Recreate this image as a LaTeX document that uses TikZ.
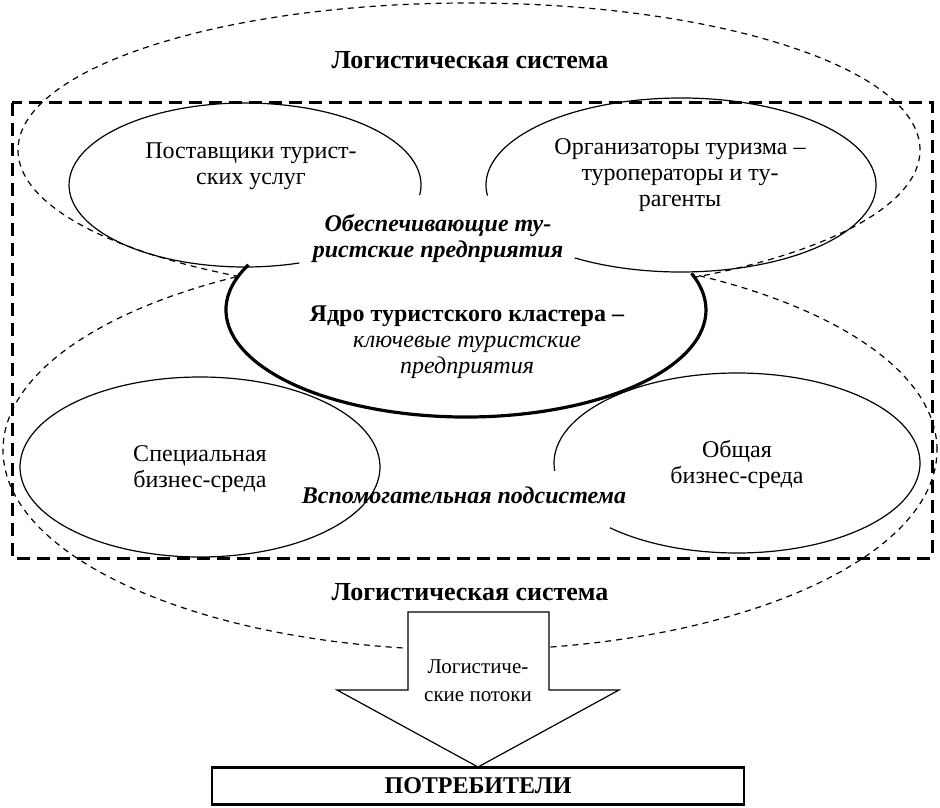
\documentclass[tikz,border=0pt]{standalone}
\usepackage{fontspec}
\setmainfont{Liberation Serif}
\usetikzlibrary{positioning}

\begin{document}
\begin{tikzpicture}[x=0.5pt,y=0.5pt,
    semithick,
    label/.style={font=\fontsize{12}{13}\selectfont, align=center, inner sep=0pt},
    title/.style={label, font=\fontsize{13}{14}\selectfont\bfseries},
    group/.style={label, font=\fontsize{12}{13}\selectfont\bfseries\itshape},
    logic/.style={dash pattern=on 3pt off 2.5pt, line width=0.6pt},
    frame/.style={dash pattern=on 6.5pt off 3.5pt, line width=1.5pt},
    part/.style={line width=0.6pt},
    core/.style={line width=1.6pt}
    ]
\useasboundingbox (0,0) rectangle (940,-807);

% centres of the ellipses
\coordinate (LT) at (469,-150);
\coordinate (LB) at (470,-450);
\coordinate (S) at (245,-185);
\coordinate (O) at (681,-185);
\coordinate (Y) at (466,-310);
\coordinate (SB) at (200,-467);
\coordinate (GB) at (737,-463);

\draw[logic] (LT) ellipse [x radius=451, y radius=147];
\draw[logic] (LB) ellipse [x radius=467, y radius=200];
\fill[white] (Y) ellipse [x radius=240, y radius=107];

\draw[part] (S) ++(-7:176 and 82) arc [start angle=-7, end angle=288, x radius=176, y radius=82];
\draw[part] (O) ++(237:195 and 87) arc [start angle=237, end angle=547, x radius=195, y radius=87];
\draw[part] (SB) ++(-41:180 and 90) arc [start angle=-41, end angle=358, x radius=180, y radius=90];
\draw[part] (GB) ++(226:183 and 90) arc [start angle=226, end angle=545, x radius=183, y radius=90];
\draw[core] (Y) ++(155:240 and 107) arc [start angle=155, end angle=380, x radius=240, y radius=107];

\draw[frame] (12,-103) rectangle (932,-558);

\node[title] (T1) at (470,-60) {Логистическая система};
\node[label] (ts) at (251,-166) {Поставщики турист-\\ских услуг};
\node[label] (to) at (680,-175) {Организаторы туризма –\\туроператоры и ту-\\рагенты};
\node[group] (tg) at (438,-238) {Обеспечивающие ту-\\ристские предприятия};
\node[label] (ty) at (467,-342) {\textbf{Ядро туристского кластера –}\\\textit{ключевые туристские}\\\textit{предприятия}};
\node[label] (tsb) at (200,-469) {Специальная\\бизнес-среда};
\node[label] (tgb) at (737,-464) {Общая\\бизнес-среда};
\node[group] (tv) at (464,-495) {Вспомогательная подсистема};
\node[title] (T2) at (470,-592) {Логистическая система};

% flow arrow
\draw[part, fill=white] (408,-612) -- (549,-612) -- (549,-690) -- (619,-690)
    -- (478,-767) -- (337,-690) -- (408,-690) -- cycle;
\node[label, font=\fontsize{10.5}{14}\selectfont] (tf) at (478,-681) {Логистиче-\\ские потоки};

\node[draw, line width=1.2pt, minimum width=266pt, minimum height=18.5pt,
    inner sep=0pt, font=\fontsize{12}{13}\selectfont\bfseries] (P) at (478,-786) {ПОТРЕБИТЕЛИ};
\end{tikzpicture}
\end{document}
